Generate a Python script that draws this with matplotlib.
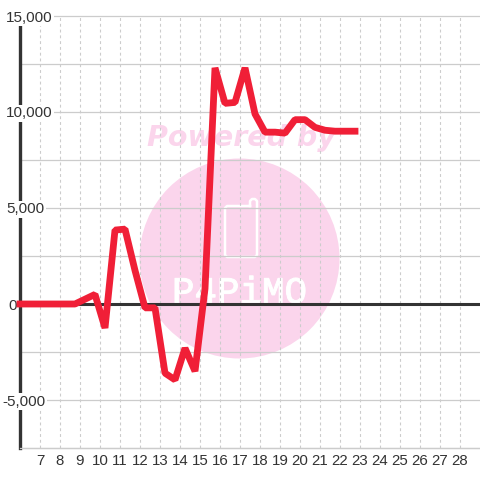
import matplotlib
matplotlib.use("Agg")
import matplotlib.pyplot as plt
import matplotlib.patheffects as pe
from matplotlib.patches import Ellipse

plt.rcParams['font.family'] = ['Liberation Sans', 'DejaVu Sans']

# data
days = [6, 6.25, 6.75, 7.25, 7.75, 8.25, 8.75, 9.25, 9.75, 10.25, 10.75, 11.25, 11.75,
        12.25, 12.75, 13.25, 13.75, 14.25, 14.75, 15.25, 15.75, 16.25, 16.75, 17.25,
        17.75, 18.25, 18.75, 19.25, 19.75, 20.25, 20.75, 21.25, 21.75, 22.25, 22.75]
values = [0, 0, 0, 0, 0, 0, 0, 250, 500, -1250, 3850, 3900, 1750,
          -200, -200, -3600, -3950, -2300, -3500, 800, 12300, 10450, 10500, 12300,
          9900, 8950, 8950, 8900, 9600, 9600, 9200, 9050, 9000, 9000, 9000]

x_ticks = list(range(7, 29))
y_grid = [-7500, -5000, -2500, 0, 2500, 5000, 7500, 10000, 12500, 15000]
y_labels = ['15,000', '10,000', '5,000', '0', '-5,000']
y_label_vals = [15000, 10000, 5000, 0, -5000]
y_label_x = [5.3, 5.3, 5.3, 5.4, 5.1]

GREY = '#cccccc'
DARK = '#333333'
RED = '#f01f37'
PINK = '#fbd5ec'


def px(x):
    return 6 + (x - 20) / 20


def py(y):
    return (304 - y) * 5000 / 96


fig = plt.figure(figsize=(4.8, 4.8), dpi=100)
ax = fig.add_axes([20 / 480, 32 / 480, 460 / 480, 432 / 480])
ax.set_xlim(6, 29)
ax.set_ylim(-7500, 15000)

# watermark, sits under the grid
ax.add_patch(Ellipse((px(239.5), py(258.5)), 10, 200 * 5000 / 96, fc=PINK, ec='none', zorder=0.1))
ax.text(px(241.5), py(146), 'Powered by', color=PINK, family='DejaVu Sans', weight='bold',
        style='oblique', fontsize=20.5, ha='center', va='baseline', zorder=0.1)
logo_x = [250, 227, 225, 225, 227, 255, 257, 257, 255, 252, 250, 250]
logo_y = [206, 206, 208, 255, 257, 257, 255, 201, 199, 199, 201, 206]
ax.plot([px(v) for v in logo_x], [py(v) for v in logo_y], color='white', lw=1.8,
        solid_joinstyle='round', zorder=0.2)
ax.text(px(239.5), py(303), 'P4PiMO', color='white', family='Liberation Mono', fontsize=27,
        ha='center', va='baseline', zorder=0.2,
        path_effects=[pe.withStroke(linewidth=0.7, foreground='white')])

# grid
ax.set_xticks(x_ticks)
ax.set_yticks(y_grid)
ax.set_yticklabels([])
ax.tick_params(length=0, labelsize=10.8, labelcolor=DARK, pad=4.5)
ax.set_axisbelow(True)
ax.grid(axis='y', color=GREY, lw=0.9)
ax.grid(axis='x', color=GREY, lw=0.8, dashes=(2.6, 2.6))
for line in ax.get_ygridlines():
    line.set_clip_on(False)

for name in ['top', 'right']:
    ax.spines[name].set_visible(False)
ax.spines['bottom'].set_color(GREY)
ax.spines['bottom'].set_linewidth(0.9)
ax.spines['left'].set_color(DARK)
ax.spines['left'].set_linewidth(2.4)
ax.spines['left'].set_zorder(2)

ax.axhline(0, color=DARK, lw=2.2, zorder=2)

ax.plot(days, values, color=RED, lw=4.9, solid_joinstyle='bevel',
        solid_capstyle='projecting', clip_on=False, zorder=4)

# y labels have a white box that hides the grid and the axis line
for x, v, s in zip(y_label_x, y_label_vals, y_labels):
    ax.text(x, v, s, color=DARK, fontsize=11, ha='left', va='center_baseline', clip_on=False, zorder=3,
            bbox=dict(fc='white', ec='none', pad=1.0))

fig.savefig('out.png', dpi=100)
